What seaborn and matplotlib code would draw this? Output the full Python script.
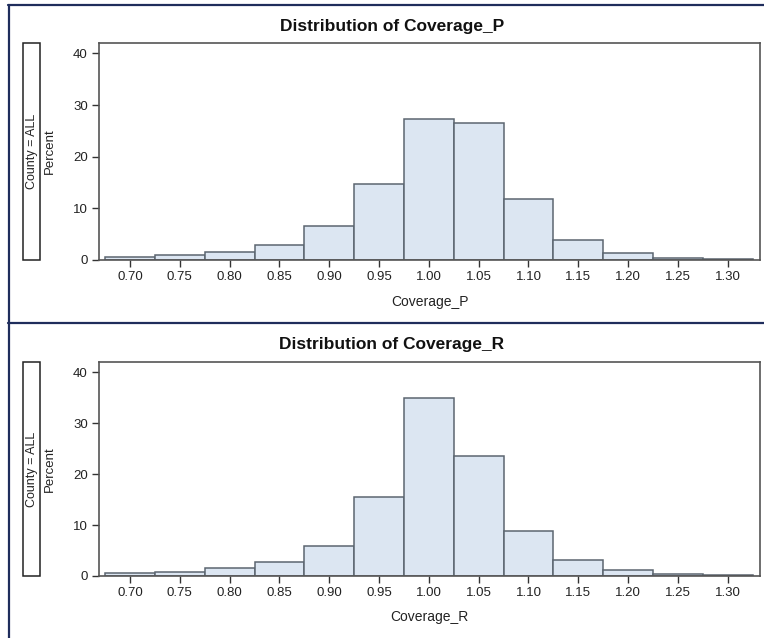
import numpy as np
import pandas as pd
import matplotlib
matplotlib.use('Agg')
import matplotlib.pyplot as plt
import seaborn as sns
from matplotlib.patches import Rectangle
from matplotlib.lines import Line2D

# данные: центры бинов и проценты
bin_centers = [0.70, 0.75, 0.80, 0.85, 0.90, 0.95, 1.00, 1.05, 1.10, 1.15, 1.20, 1.25, 1.30]
pct_p = [0.6, 0.9, 1.6, 3.0, 6.5, 14.8, 27.3, 26.6, 11.8, 3.9, 1.3, 0.45, 0.15]
pct_r = [0.5, 0.85, 1.5, 2.7, 5.9, 15.5, 34.9, 23.5, 8.9, 3.2, 1.1, 0.45, 0.15]
titles = ['Distribution of Coverage_P', 'Distribution of Coverage_R']
xlabels = ['Coverage_P', 'Coverage_R']
x_ticks = [0.70, 0.75, 0.80, 0.85, 0.90, 0.95, 1.00, 1.05, 1.10, 1.15, 1.20, 1.25, 1.30]
y_ticks = [0, 10, 20, 30, 40]

sns.set_style('white')
plt.rcParams['font.family'] = ['Liberation Sans', 'DejaVu Sans']

W, H = 764, 638
fig = plt.figure(figsize=(W / 100, H / 100), dpi=100)

bar_color = '#dce6f2'
edge_color = '#5c6670'
navy = '#1f2d5c'
frame_gray = '#555555'

# позиции панелей в пикселях: (верх осей, низ осей, y заголовка, y подписи x)
panels = [
    (43, 260, 27, 302),
    (362, 576, 345, 617),
]
ax_left, ax_right = 99, 760
edges = [c - 0.025 for c in bin_centers] + [bin_centers[-1] + 0.025]

for i, (top, bottom, ty, ly) in enumerate(panels):
    ax = fig.add_axes([ax_left / W, (H - bottom) / H, (ax_right - ax_left) / W, (bottom - top) / H])
    df = pd.DataFrame({'x': bin_centers, 'pct': [pct_p, pct_r][i]})
    sns.histplot(data=df, x='x', weights='pct', bins=edges, ax=ax,
                 color=bar_color, edgecolor=edge_color, linewidth=1.1, alpha=1)
    ax.set_xlim(0.6689, 1.3324)
    ax.set_ylim(0, 42)
    ax.set_xticks(x_ticks)
    ax.set_xticklabels([f'{t:.2f}' for t in x_ticks])
    ax.set_yticks(y_ticks)
    ax.set_xlabel('')
    ax.set_ylabel('')
    ax.tick_params(axis='both', direction='out', length=5, width=1, color='#333333',
                   labelsize=9.5, labelcolor='#222222', pad=3, bottom=True, left=True)
    for s in ax.spines.values():
        s.set_color(frame_gray)
        s.set_linewidth(1.2)
        s.set_visible(True)

    # заголовок и подписи
    fig.text(392 / W, 1 - ty / H, titles[i], ha='center', va='center',
             fontsize=12.5, fontweight='bold', color='#111111')
    fig.text((ax_left + ax_right) / 2 / W, 1 - ly / H, xlabels[i], ha='center', va='center',
             fontsize=10, color='#222222')

    # рамка с County = ALL
    mid = (top + bottom) / 2
    fig.patches.append(Rectangle((22.7 / W, 1 - bottom / H), 17.3 / W, (bottom - top) / H,
                                 transform=fig.transFigure, fill=False,
                                 edgecolor='#222222', linewidth=1.1))
    fig.text(31.5 / W, 1 - mid / H, 'County = ALL', rotation=90, ha='center', va='center',
             fontsize=9, color='#222222')
    fig.text(49.5 / W, 1 - mid / H, 'Percent', rotation=90, ha='center', va='center',
             fontsize=9.5, color='#222222')

# внешняя тёмно-синяя рамка
fig.lines.append(Line2D([8.7 / W, 8.7 / W], [0, 1 - 5 / H], transform=fig.transFigure,
                        color=navy, linewidth=1.6))
fig.lines.append(Line2D([8 / W, 1], [1 - 5 / H, 1 - 5 / H], transform=fig.transFigure,
                        color=navy, linewidth=1.6))
fig.lines.append(Line2D([8 / W, 1], [1 - 323.3 / H, 1 - 323.3 / H], transform=fig.transFigure,
                        color=navy, linewidth=1.6))

fig.savefig('out.png', dpi=100)
